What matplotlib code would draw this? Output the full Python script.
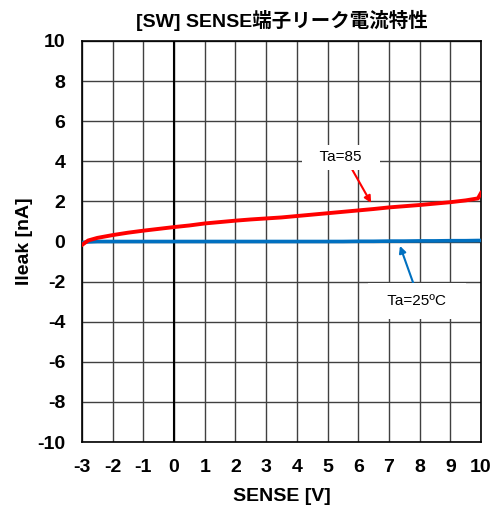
import matplotlib.pyplot as plt

plt.rcParams['font.family'] = ['Liberation Sans', 'Noto Sans CJK JP']
plt.rcParams['axes.unicode_minus'] = False

# leakage current vs SENSE voltage
sense = [-3.0, -2.8, -2.5, -2.0, -1.5, -1.0, -0.5, 0.0, 0.5, 1.0, 1.5, 2.0, 2.5, 3.0,
         3.5, 4.0, 4.5, 5.0, 5.5, 6.0, 6.5, 7.0, 7.5, 8.0, 8.5, 9.0, 9.5, 9.9, 10.0]
ileak_85 = [-0.17, 0.05, 0.18, 0.32, 0.44, 0.54, 0.63, 0.72, 0.80, 0.90, 0.97, 1.04, 1.10, 1.15,
            1.20, 1.27, 1.34, 1.41, 1.48, 1.55, 1.62, 1.70, 1.76, 1.82, 1.89, 1.96, 2.05, 2.15, 2.42]
ileak_25 = [-0.05, -0.02, 0.0, 0.0, 0.0, 0.0, 0.0, 0.0, 0.0, 0.0, 0.0, 0.0, 0.0, 0.0,
            0.0, 0.0, 0.0, 0.0, 0.0, 0.01, 0.01, 0.02, 0.02, 0.03, 0.03, 0.04, 0.04, 0.05, 0.05]

xticks = list(range(-3, 11))
yticks = list(range(-10, 11, 2))

fig = plt.figure(figsize=(4.98, 5.16), dpi=100)
ax = fig.add_axes([82 / 498, 74 / 516, 399 / 498, 401 / 516])

ax.set_xlim(-3, 10)
ax.set_ylim(-10, 10)
ax.set_xticks(xticks)
ax.set_yticks(yticks)
ax.tick_params(length=0, labelsize=14)
ax.tick_params(axis='y', pad=12)
ax.tick_params(axis='x', pad=12)
for lbl in ax.get_xticklabels() + ax.get_yticklabels():
    lbl.set_fontweight('bold')
ax.grid(True, color='#404040', linewidth=1.0)
ax.axvline(0, color='black', linewidth=1.5)
for s in ax.spines.values():
    s.set_color('black')
    s.set_linewidth(1.2)

ax.plot(sense, ileak_25, color='#0070C0', linewidth=2.6, zorder=3)
ax.plot(sense, ileak_85, color='#FF0000', linewidth=2.8, zorder=4)

ax.annotate('   Ta=85   ', xy=(6.42, 1.92), xytext=(5.44, 4.21), fontsize=11, ha='center', va='center',
            bbox=dict(boxstyle='square,pad=0.36', fc='white', ec='none'),
            arrowprops=dict(arrowstyle='-|>', color='#FF0000', lw=1.5, mutation_scale=10,
                            relpos=(0.62, 0), shrinkA=0, shrinkB=0), zorder=5)
ax.annotate('  Ta=25ºC  ', xy=(7.36, -0.22), xytext=(7.92, -2.97), fontsize=11, ha='center', va='center',
            bbox=dict(boxstyle='square,pad=0.72', fc='white', ec='none'),
            arrowprops=dict(arrowstyle='-|>', color='#0070C0', lw=1.5, mutation_scale=10,
                            relpos=(0.5, 1), shrinkA=0, shrinkB=0), zorder=5)

ax.set_title('[SW] SENSE端子リーク電流特性', fontsize=14, fontweight='bold', pad=10)
ax.set_xlabel('SENSE [V]', fontsize=14, fontweight='bold', labelpad=9)
ax.set_ylabel('Ileak [nA]', fontsize=14, fontweight='bold', labelpad=3)

fig.savefig('out.png', dpi=100)
